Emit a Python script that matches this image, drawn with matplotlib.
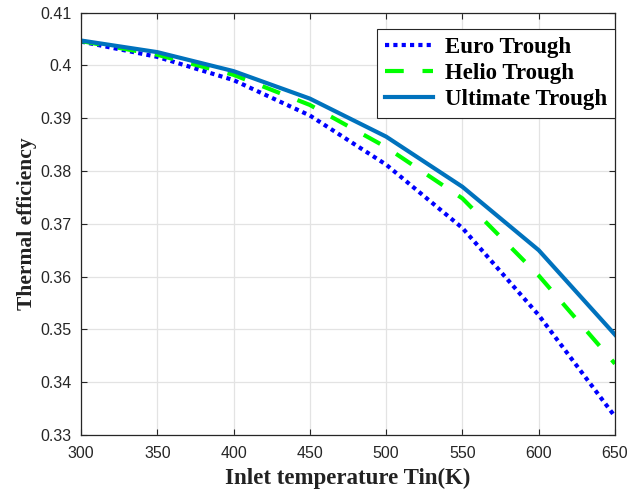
import matplotlib
matplotlib.use('Agg')
import matplotlib.pyplot as plt

# inlet temperature (K)
tin = [300, 350, 400, 450, 500, 550, 600, 650]

# thermal efficiency
euro = [0.4045, 0.4016, 0.3972, 0.3905, 0.3812, 0.3692, 0.3527, 0.3335]
helio = [0.4046, 0.4020, 0.3982, 0.3925, 0.3845, 0.3748, 0.3602, 0.3435]
ultimate = [0.4047, 0.4025, 0.3989, 0.3937, 0.3865, 0.3770, 0.3650, 0.3490]

xticks = [300, 350, 400, 450, 500, 550, 600, 650]
yticks = [0.33, 0.34, 0.35, 0.36, 0.37, 0.38, 0.39, 0.40, 0.41]
ytick_labels = ['0.33', '0.34', '0.35', '0.36', '0.37', '0.38', '0.39', '0.4', '0.41']

fig = plt.figure(figsize=(6.41, 4.93), dpi=100)
ax = fig.add_axes([0.1264, 0.1176, 0.833, 0.857])

ax.plot(tin, euro, color='#0000ff', linestyle=(0, (1.0, 1.0)), linewidth=3.0,
        dash_capstyle='butt', label='Euro Trough')
ax.plot(tin, helio, color='#00ff00', linestyle=(0, (4.5, 4.5)), linewidth=3.0,
        label='Helio Trough')
ax.plot(tin, ultimate, color='#0072bd', linestyle='-', linewidth=3.0,
        label='Ultimate Trough')

ax.set_xlim(300, 650)
ax.set_ylim(0.33, 0.41)
ax.set_xticks(xticks)
ax.set_yticks(yticks)
ax.set_yticklabels(ytick_labels)
ax.grid(True, color='#e3e3e3', linewidth=0.9)
ax.set_axisbelow(True)
ax.tick_params(direction='in', top=True, right=True, length=4, width=0.8,
               labelsize=11.5, labelcolor='#262626', colors='#262626')
ax.tick_params(axis='x', pad=8)
ax.tick_params(axis='y', pad=7)
for lab in ax.get_xticklabels() + ax.get_yticklabels():
    lab.set_family('Liberation Sans')
for sp in ax.spines.values():
    sp.set_color('#262626')
    sp.set_linewidth(0.9)

ax.set_xlabel('Inlet temperature Tin(K)', family='Liberation Serif', fontweight='bold',
              fontsize=16.5, color='#222222', labelpad=5)
ax.set_ylabel('Thermal efficiency', family='Liberation Serif', fontweight='bold',
              fontsize=15.5, color='#222222', labelpad=2)

leg = ax.legend(loc='upper right', bbox_to_anchor=(1.0, 0.96), fancybox=False,
                edgecolor='#262626', framealpha=1.0, handlelength=2.1,
                handletextpad=0.5, borderpad=0.35, labelspacing=0.2,
                borderaxespad=0.0,
                prop={'family': 'Liberation Serif', 'weight': 'bold', 'size': 16.5})
leg.get_frame().set_linewidth(0.8)

fig.savefig('out.png', dpi=100)
